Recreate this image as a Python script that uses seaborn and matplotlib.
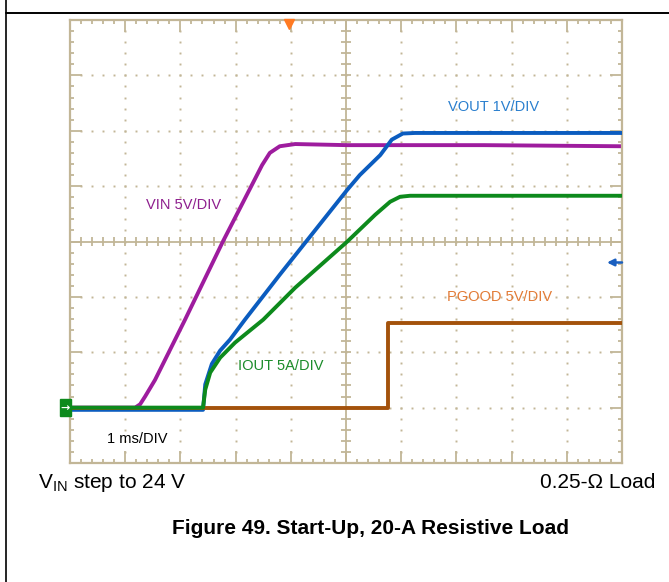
import numpy as np
import pandas as pd
import matplotlib
matplotlib.use("Agg")
import matplotlib.pyplot as plt
import seaborn as sns
from matplotlib.lines import Line2D
from matplotlib.patches import Rectangle
from matplotlib.collections import LineCollection

# ---- data read from the scope capture (time in ms from left screen edge, 1 ms/div) ----
vin_t = [0.0, 1.18, 1.27, 1.36, 1.54, 2.08, 2.77, 3.48, 3.62, 3.80, 4.08, 5.02, 7.50, 10.0]
vin_v = [0.0, 0.0, 0.3, 1.0, 2.5, 7.9, 15.0, 21.9, 23.0, 23.6, 23.8, 23.7, 23.7, 23.6]

vout_t = [0.0, 2.41, 2.45, 2.57, 2.72, 2.90, 3.17, 3.80, 5.02, 5.25, 5.62, 5.83, 6.03, 6.25, 10.0]
vout_v = [-0.04, -0.04, 0.42, 0.79, 1.03, 1.23, 1.59, 2.40, 3.93, 4.20, 4.56, 4.84, 4.95, 4.96, 4.96]

iout_t = [0.0, 2.41, 2.45, 2.54, 2.72, 2.99, 3.50, 4.08, 5.02, 5.53, 5.80, 5.98, 6.16, 10.0]
iout_a = [0.0, 0.0, 1.62, 3.16, 4.51, 5.87, 7.94, 10.83, 14.98, 17.42, 18.59, 19.04, 19.13, 19.13]

pgood_t = [0.0, 5.76, 5.76, 10.0]
pgood_v = [0.0, 0.0, 7.6, 7.6]

# channel scale (units per division); all channels share ground at -3 div
scale = {"VIN": 5.0, "VOUT": 1.0, "IOUT": 5.0, "PGOOD": 5.0}
ground_div = -3.0

labels = {"VIN": "VIN 5V/DIV", "VOUT": "VOUT 1V/DIV", "IOUT": "IOUT 5A/DIV", "PGOOD": "PGOOD 5V/DIV"}

sns.set_style("white")
plt.rcParams["font.family"] = ["Liberation Sans", "DejaVu Sans"]
plt.rcParams["text.color"] = "black"

W, H = 669, 582
fig = plt.figure(figsize=(W / 100, H / 100), dpi=100)
L, R, T, B = 70, 622, 20, 463
ax = fig.add_axes([L / W, 1 - B / H, (R - L) / W, (B - T) / H])
ax.set_xlim(0, 10)
ax.set_ylim(-4, 4)
ax.set_xticks([])
ax.set_yticks([])
tan = "#c2b697"
for s in ax.spines.values():
    s.set_color(tan)
    s.set_linewidth(1.6)

# ---- scope graticule ----
segs = []
for i in range(51):
    x = i * 0.2
    ln = 0.21 if i % 5 == 0 else 0.08
    segs += [[(x, 4), (x, 4 - ln)], [(x, -4), (x, -4 + ln)], [(x, -0.09), (x, 0.09)]]
for j in range(41):
    y = -4 + j * 0.2
    ln = 0.21 if j % 5 == 0 else 0.08
    segs += [[(0, y), (ln, y)], [(10, y), (10 - ln, y)], [(4.91, y), (5.09, y)]]
segs += [[(5, -4), (5, 4)], [(0, 0), (10, 0)]]
ax.add_collection(LineCollection(segs, colors=tan, linewidths=1.3, zorder=1))

dx, dy = [], []
for xm in [1, 2, 3, 4, 6, 7, 8, 9]:
    for k in range(1, 40):
        dx.append(xm); dy.append(-4 + 0.2 * k)
for ym in [-3, -2, -1, 1, 2, 3]:
    for k in range(1, 50):
        dx.append(0.2 * k); dy.append(ym)
ax.plot(dx, dy, ls="none", marker="s", ms=1.4, mec="none", mfc=tan, zorder=1)

# ---- traces ----
def frame(t, v, ch):
    return pd.DataFrame({"t": t, "div": [ground_div + val / scale[ch] for val in v]})

traces = [
    ("VIN", vin_t, vin_v, "#9e1c9e", 2),
    ("VOUT", vout_t, vout_v, "#0b5cbf", 3),
    ("PGOOD", pgood_t, pgood_v, "#a3520c", 4),
    ("IOUT", iout_t, iout_a, "#0d8a1c", 5),
]
for ch, t, v, col, z in traces:
    sns.lineplot(data=frame(t, v, ch), x="t", y="div", color=col, lw=2.8,
                 estimator=None, sort=False, ax=ax, zorder=z)
ax.set_xlabel("")
ax.set_ylabel("")

# ---- on-screen labels ----
def px(xp, yp):
    return (xp - L) / 55.2, (242 - yp) / 55.4

lab_fs = 10.5
ax.text(*px(448, 107), labels["VOUT"], color="#2a7fce", fontsize=lab_fs, va="center", ha="left", zorder=6)
ax.text(*px(146, 205), labels["VIN"], color="#8e1f8e", fontsize=lab_fs, va="center", ha="left", zorder=6)
ax.text(*px(238, 367), labels["IOUT"], color="#1b8c2a", fontsize=lab_fs, va="center", ha="left", zorder=6)
ax.text(*px(447, 298), labels["PGOOD"], color="#e27b36", fontsize=lab_fs, va="center", ha="left", zorder=6)
ax.text(*px(107, 440), "1 ms/DIV", color="black", fontsize=lab_fs, va="center", ha="left", zorder=6)

# trigger position marker, ground marker, trigger level marker
ax.plot([px(289, 0)[0]], [3.93], marker="v", ms=7, color="#ff7a22", clip_on=False, zorder=7)
gx0, gy0 = px(60, 417)
gx1, gy1 = px(71, 400)
ax.add_patch(Rectangle((gx0, gy0), gx1 - gx0, gy1 - gy0, color="#0d8a1c", clip_on=False, zorder=7))
ax.text((gx0 + gx1) / 2, (gy0 + gy1) / 2, "→", color="white", fontsize=8, ha="center", va="center",
        family="DejaVu Sans", fontweight="bold", clip_on=False, zorder=8)
ay = px(0, 263)[1]
ax.annotate("", xy=(px(607, 0)[0], ay), xytext=(px(622, 0)[0], ay),
            arrowprops=dict(arrowstyle="-|>", color="#1a5fc0", lw=1.8, mutation_scale=10,
                            shrinkA=0, shrinkB=0), zorder=7)

# ---- page text and frame ----
fig.add_artist(Line2D([6 / W, 6 / W], [0, 1], color="black", lw=1.2))
fig.add_artist(Line2D([6 / W, 1], [1 - 13 / H, 1 - 13 / H], color="black", lw=1.4))
fig.text(38 / W, 1 - 483 / H, r"V$_\mathregular{IN}$ step to 24 V", fontsize=15, ha="left", va="center")
fig.text(655 / W, 1 - 483 / H, "0.25-Ω Load", fontsize=15, ha="right", va="center")
fig.text(371 / W, 1 - 528 / H, "Figure 49. Start-Up, 20-A Resistive Load", fontsize=15,
         fontweight="bold", ha="center", va="center")

fig.savefig("out.png", dpi=100)
